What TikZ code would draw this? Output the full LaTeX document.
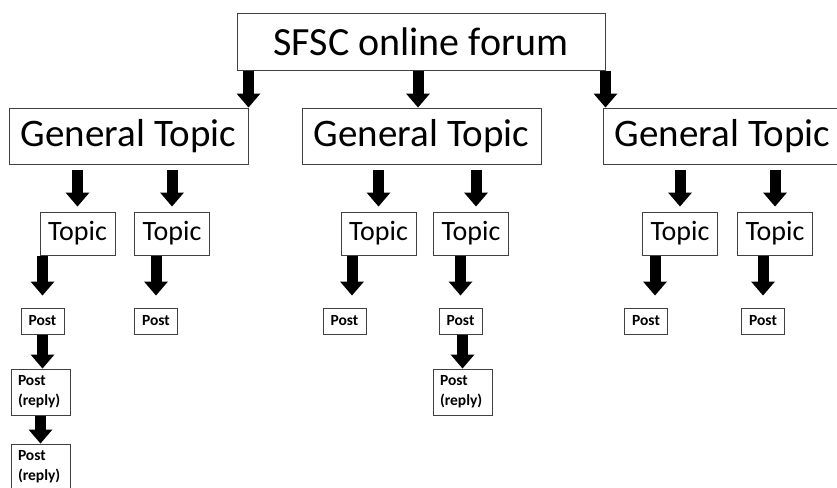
\documentclass[tikz,border=0pt]{standalone}
\usepackage{fontspec}
\setmainfont{Carlito}
\usetikzlibrary{arrows.meta}

\begin{document}
\begin{tikzpicture}[x=1pt, y=-1pt,
				rootbox/.style={draw=black!75, line width=1pt, minimum width=368pt, minimum height=56pt, inner sep=0pt, font=\fontsize{40}{44}\selectfont},
				gtbox/.style={draw=black!75, line width=1pt, minimum width=239pt, minimum height=56pt, inner sep=0pt, font=\fontsize{39}{44}\selectfont},
				topicbox/.style={draw=black!75, line width=1pt, minimum width=75pt, minimum height=43pt, inner sep=0pt, font=\fontsize{28}{32}\selectfont},
				postbox/.style={draw=black!75, line width=1pt, minimum width=43pt, minimum height=26pt, inner sep=0pt, font=\bfseries\fontsize{15.5}{20}\selectfont},
				replybox/.style={draw=black!75, line width=1pt, text width=45pt, inner xsep=7pt, inner ysep=0pt, minimum height=46pt, align=left, font=\bfseries\fontsize{15.5}{20}\selectfont},
				fat/.style={line width=11pt, -{Triangle[width=24pt, length=14pt, line width=0pt]}},
				gap/.style={shorten <=5pt, shorten >=5pt},
				short/.style={shorten >=12pt}]
				% Bildbereich
				\useasboundingbox (0,0) rectangle (837,487);
				% Forum und allgemeine Themen
				\node[rootbox] (root) at (421,42) {SFSC online forum};
				\node[gtbox] (gt1) at (128.5,136) {General Topic};
				\node[gtbox] (gt2) at (421.5,136) {General Topic};
				\node[gtbox] (gt3) at (722.5,136) {General Topic};
				% Themen
				\node[topicbox] (t1) at (77.5,233.5) {Topic};
				\node[topicbox] (t2) at (172,233.5) {Topic};
				\node[topicbox] (t3) at (378.5,233.5) {Topic};
				\node[topicbox] (t4) at (471,233.5) {Topic};
				\node[topicbox] (t5) at (680,233.5) {Topic};
				\node[topicbox] (t6) at (775,233.5) {Topic};
				% Beitraege
				\node[postbox] (p1) at (42.5,321) {Post};
				\node[postbox] (p2) at (156,321) {Post};
				\node[postbox] (p3) at (344.5,321) {Post};
				\node[postbox] (p4) at (460.5,321) {Post};
				\node[postbox] (p5) at (646,321) {Post};
				\node[postbox] (p6) at (763,321) {Post};
				\node[replybox] (r1) at (40.5,392) {Post\\(reply)};
				\node[replybox] (r2) at (40.5,467) {Post\\(reply)};
				\node[replybox] (r3) at (462.5,392) {Post\\(reply)};
				% Pfeile
				\draw[fat] (gt1.north east |- root.south) -- (gt1.north east);
				\draw[fat] ([xshift=-3.5pt]gt2.north |- root.south) -- ([xshift=-3.5pt]gt2.north);
				\draw[fat] (root.south east) -- (root.south east |- gt3.north);
				\foreach \g/\t in {gt1/t1, gt1/t2, gt2/t3, gt3/t5, gt3/t6}
					\draw[fat,gap] (\t.north |- \g.south) -- (\t.north);
				\draw[fat,gap] ([xshift=5pt]t4.north |- gt2.south) -- ([xshift=5pt]t4.north);
				\foreach \t/\p in {t1/p1, t2/p2, t4/p4, t6/p6}
					\draw[fat,short] (\p.north |- \t.south) -- (\p.north);
				\draw[fat,short] ([xshift=7.5pt]p3.north |- t3.south) -- ([xshift=7.5pt]p3.north);
				\draw[fat,short] ([xshift=9pt]p5.north |- t5.south) -- ([xshift=9pt]p5.north);
				\draw[fat] (p1.south) -- (p1.south |- r1.north);
				\draw[fat] (r1.south) -- (r2.north);
				\draw[fat] (r3.north |- p4.south) -- (r3.north);
			\end{tikzpicture}
\end{document}
